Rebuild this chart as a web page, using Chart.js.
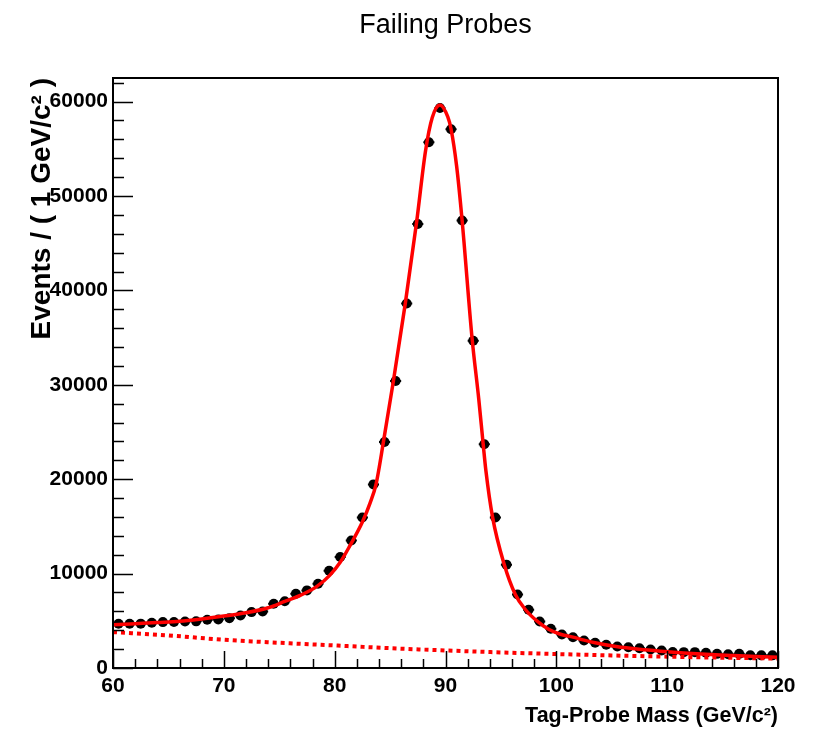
<!DOCTYPE html>
<html>
<head>
<meta charset="utf-8">
<title>Failing Probes</title>
<script src="https://cdn.jsdelivr.net/npm/chart.js@4.4.1/dist/chart.umd.min.js"></script>
<style>
  html, body { margin: 0; padding: 0; background: #fff; }
  #wrap { width: 813px; height: 733px; }
</style>
</head>
<body>
<div id="wrap"><canvas id="massChart" width="813" height="733"></canvas></div>
<script>
// histogram: 1 GeV bins between 60 and 120
var binCentres = [60.5, 61.5, 62.5, 63.5, 64.5, 65.5, 66.5, 67.5, 68.5, 69.5,
                  70.5, 71.5, 72.5, 73.5, 74.5, 75.5, 76.5, 77.5, 78.5, 79.5,
                  80.5, 81.5, 82.5, 83.5, 84.5, 85.5, 86.5, 87.5, 88.5, 89.5,
                  90.5, 91.5, 92.5, 93.5, 94.5, 95.5, 96.5, 97.5, 98.5, 99.5,
                  100.5, 101.5, 102.5, 103.5, 104.5, 105.5, 106.5, 107.5, 108.5, 109.5,
                  110.5, 111.5, 112.5, 113.5, 114.5, 115.5, 116.5, 117.5, 118.5, 119.5];
var events = [4690, 4690, 4700, 4790, 4860, 4870, 4930, 4940, 5110, 5140,
              5280, 5570, 5920, 5990, 6810, 7080, 7870, 8220, 8930, 10300,
              11750, 13500, 15950, 19450, 23950, 30400, 38620, 47030, 55690, 59330,
              57070, 47400, 34660, 23700, 15950, 10950, 7790, 6170, 4930, 4160,
              3550, 3250, 2920, 2670, 2460, 2280, 2200, 2100, 1960, 1860,
              1700, 1680, 1680, 1610, 1500, 1450, 1500, 1360, 1340, 1340];
var binHalfWidth = 0.5;

// fitted signal + background curve
var fitMass = [60, 62, 64, 66, 68, 70, 72, 74, 75.5, 76.9, 78.4, 79.55,
               80.5, 81.35, 82.5, 83.2, 83.73, 84.4, 85.3, 86.37,
               87.4, 88.2, 88.8, 89.5, 90.2, 90.5, 91.0, 91.5, 92.4,
               93.0, 93.4, 93.64, 94.25, 95.3, 96.3, 97.2, 98.3, 99.3, 100.3,
               101.5, 102.5, 103.5, 105.4, 107.5, 109.4, 111.5, 113.9, 116, 118, 120];
var fitEvents = [4580, 4700, 4820, 4950, 5200, 5500, 5850, 6380, 7050, 7690, 8640, 9810,
                 11200, 12900, 15460, 17500, 19460, 23950, 30400, 38600,
                 47300, 54800, 58300, 59650, 58400, 57100, 53200, 47400, 34900,
                 28500, 23700, 20950, 15960, 10970, 7790, 6200, 4930, 4100, 3600,
                 3270, 2950, 2680, 2280, 1980, 1780, 1600, 1430, 1320, 1230, 1150];

// background component (dashed)
var bkgMass = [60, 65, 70, 75, 80, 85, 90, 95, 100, 105, 110, 115, 120];
var bkgEvents = [3800, 3450, 2990, 2670, 2390, 2100, 1860, 1650, 1480, 1330, 1200, 1090, 1000];

// axes
var xRange = [60, 120];
var yRange = [0, 62500];
var xTickValues = [60, 70, 80, 90, 100, 110, 120];
var yTickValues = [0, 10000, 20000, 30000, 40000, 50000, 60000];
var xMinorStep = 2, yMinorStep = 2000;

var rootFont = "'Liberation Sans', Arial, Helvetica, sans-serif";

function toPoints(xs, ys) {
  var out = [];
  for (var i = 0; i < xs.length; i++) out.push({ x: xs[i], y: ys[i] });
  return out;
}

function fixedTicks(values) {
  return function(scale) {
    scale.ticks = values.map(function(v) { return { value: v }; });
  };
}

// error bars under the markers
var errorBars = {
  id: 'errorBars',
  beforeDatasetsDraw: function(chart) {
    var ctx = chart.ctx, xs = chart.scales.x, ys = chart.scales.y;
    ctx.save();
    ctx.strokeStyle = '#000';
    ctx.lineWidth = 2;
    for (var i = 0; i < binCentres.length; i++) {
      var n = events[i], err = Math.sqrt(n);
      var px = xs.getPixelForValue(binCentres[i]);
      var py = ys.getPixelForValue(n);
      ctx.beginPath();
      ctx.moveTo(xs.getPixelForValue(binCentres[i] - binHalfWidth), py);
      ctx.lineTo(xs.getPixelForValue(binCentres[i] + binHalfWidth), py);
      ctx.moveTo(px, ys.getPixelForValue(n - err));
      ctx.lineTo(px, ys.getPixelForValue(n + err));
      ctx.stroke();
    }
    ctx.restore();
  }
};

// ROOT style frame with ticks pointing inwards
var frameTicks = {
  id: 'frameTicks',
  afterDatasetsDraw: function(chart) {
    var ctx = chart.ctx, a = chart.chartArea, xs = chart.scales.x, ys = chart.scales.y;
    ctx.save();
    ctx.strokeStyle = '#000';
    ctx.lineWidth = 1.5;
    ctx.beginPath();
    for (var v = yRange[0]; v <= yRange[1]; v += yMinorStep) {
      var py = Math.round(ys.getPixelForValue(v)) + 0.5;
      var len = (yTickValues.indexOf(v) >= 0) ? 20 : 11;
      ctx.moveTo(a.left, py);
      ctx.lineTo(a.left + len, py);
    }
    for (var m = xRange[0]; m <= xRange[1]; m += xMinorStep) {
      var px = Math.round(xs.getPixelForValue(m)) + 0.5;
      var l2 = (xTickValues.indexOf(m) >= 0) ? 17 : 9;
      ctx.moveTo(px, a.bottom);
      ctx.lineTo(px, a.bottom - l2);
    }
    ctx.stroke();
    ctx.lineWidth = 2;
    ctx.strokeRect(a.left, a.top, a.right - a.left, a.bottom - a.top);
    ctx.restore();
  }
};

var ctx = document.getElementById('massChart');

var chart = new Chart(ctx, {
  type: 'scatter',
  data: {
    datasets: [
      {
        label: 'fit',
        data: toPoints(fitMass, fitEvents),
        showLine: true,
        borderColor: '#ff0000',
        borderWidth: 3.5,
        pointRadius: 0,
        cubicInterpolationMode: 'monotone',
        order: 0
      },
      {
        label: 'background',
        data: toPoints(bkgMass, bkgEvents),
        showLine: true,
        borderColor: '#ff0000',
        borderWidth: 4,
        borderDash: [4, 4],
        borderCapStyle: 'butt',
        pointRadius: 0,
        cubicInterpolationMode: 'monotone',
        order: 1
      },
      {
        label: 'data',
        data: toPoints(binCentres, events),
        backgroundColor: '#000',
        borderColor: '#000',
        borderWidth: 0,
        pointRadius: 5,
        order: 2
      }
    ]
  },
  options: {
    responsive: false,
    animation: false,
    devicePixelRatio: 1,
    layout: { padding: { left: 0, right: 35, top: 0, bottom: 0 } },
    plugins: {
      legend: { display: false },
      tooltip: { enabled: false },
      title: {
        display: true,
        text: 'Failing Probes',
        fullSize: false,
        color: '#000',
        font: { family: rootFont, size: 27, weight: 'normal' },
        padding: { top: 9, bottom: 36.6 }
      }
    },
    scales: {
      x: {
        type: 'linear',
        min: xRange[0],
        max: xRange[1],
        afterBuildTicks: fixedTicks(xTickValues),
        afterFit: function(scale) { scale.height = 65; },
        grid: { display: false, drawTicks: false },
        border: { display: false },
        ticks: {
          autoSkip: false,
          maxRotation: 0,
          padding: 6,
          color: '#000',
          font: { family: rootFont, size: 21, weight: 'bold' },
          callback: function(v) { return String(v); }
        },
        title: {
          display: true,
          text: 'Tag-Probe Mass (GeV/c²)',
          align: 'end',
          color: '#000',
          font: { family: rootFont, size: 21.5, weight: 'bold' },
          padding: { top: 0, bottom: 4 }
        }
      },
      y: {
        type: 'linear',
        min: yRange[0],
        max: yRange[1],
        afterBuildTicks: fixedTicks(yTickValues),
        afterFit: function(scale) { scale.width = 113; },
        grid: { display: false, drawTicks: false },
        border: { display: false },
        ticks: {
          autoSkip: false,
          padding: 5,
          color: '#000',
          font: { family: rootFont, size: 21, weight: 'bold' },
          callback: function(v) { return String(v); }
        },
        title: {
          display: true,
          text: 'Events / ( 1 GeV/c² )',
          align: 'end',
          color: '#000',
          font: { family: rootFont, size: 28, weight: 'bold' },
          padding: { top: 25, bottom: 0 }
        }
      }
    }
  },
  plugins: [errorBars, frameTicks]
});
</script>
</body>
</html>
